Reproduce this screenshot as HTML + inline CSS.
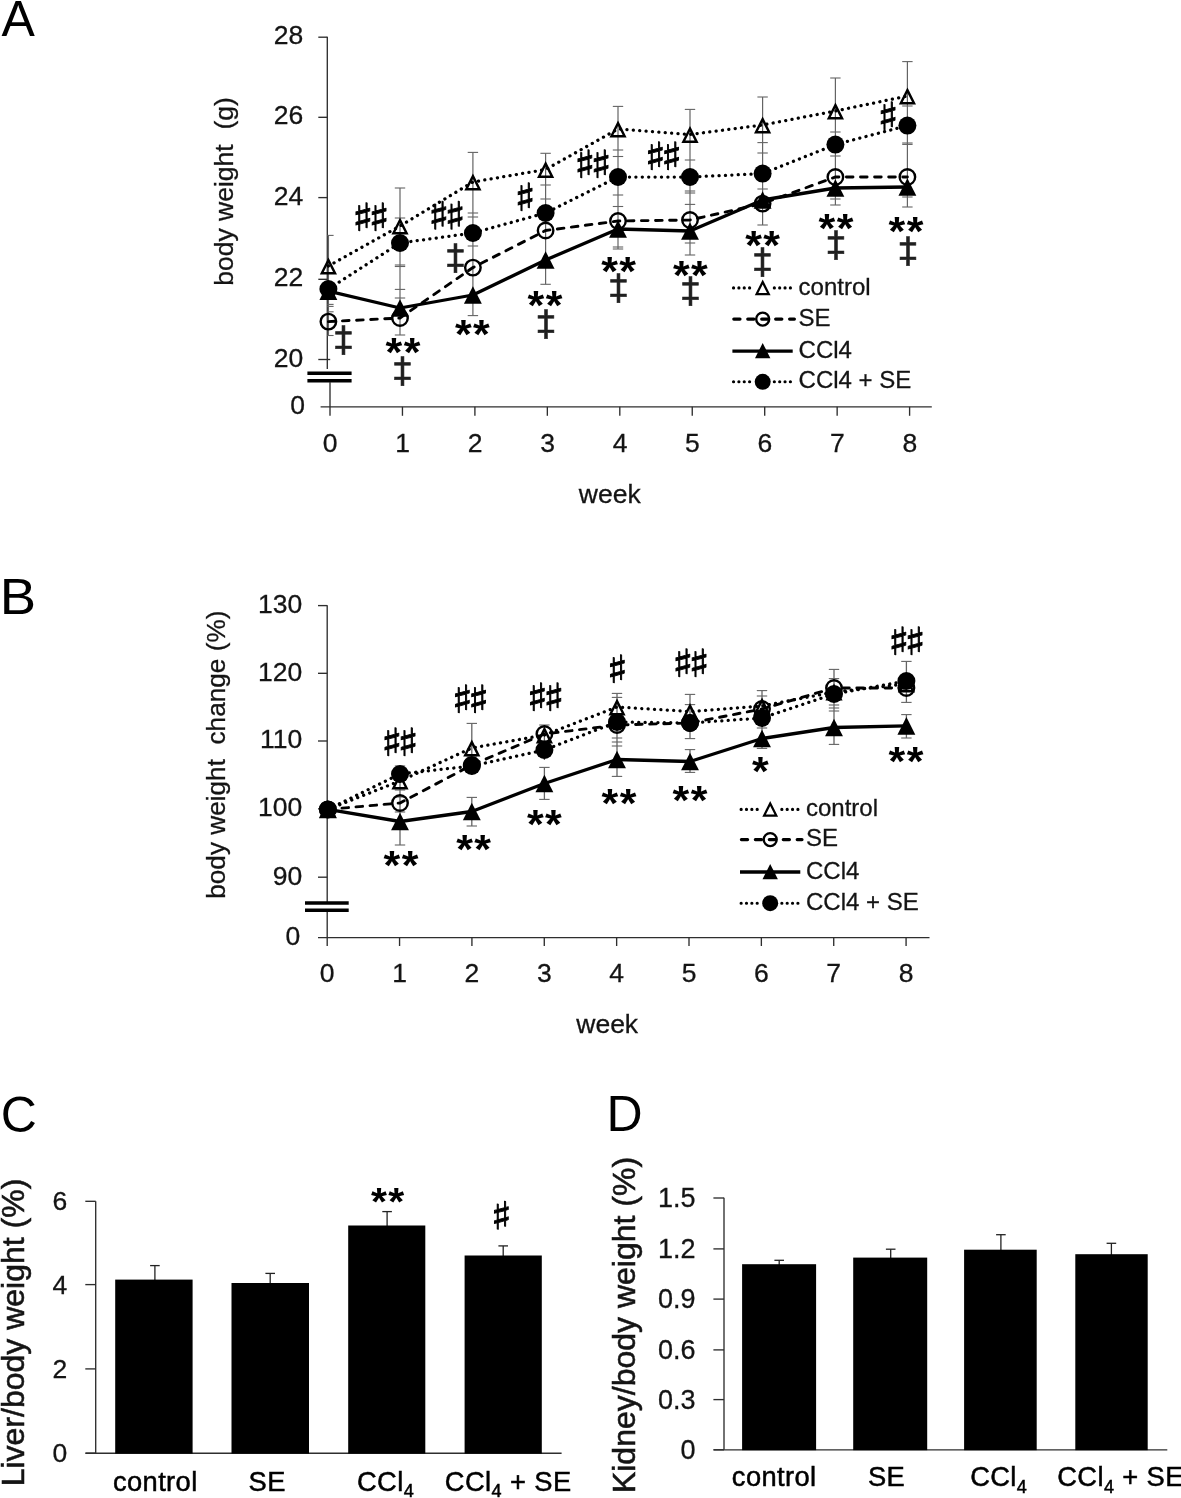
<!DOCTYPE html>
<html lang="en"><head><meta charset="utf-8"><title>Figure</title>
<style>
html,body{margin:0;padding:0;background:#fff;}
svg{display:block;font-family:"Liberation Sans", Arial, sans-serif;}
</style></head>
<body>
<svg width="1181" height="1498" viewBox="0 0 1181 1498">
<rect x="0" y="0" width="1181" height="1498" fill="#fff"/>
<text x="1.50" y="35.80" font-size="50" text-anchor="start" font-weight="normal" fill="#000" stroke="#000" stroke-width="0" >A</text>
<line x1="327.30" y1="36.70" x2="327.30" y2="369.00" stroke="#2e2e2e" stroke-width="1.35" />
<line x1="318.30" y1="37.20" x2="327.30" y2="37.20" stroke="#2e2e2e" stroke-width="1.35" />
<text x="303.30" y="44.30" font-size="26.5" text-anchor="end" font-weight="normal" fill="#141414" stroke="#141414" stroke-width="0.3" >28</text>
<line x1="318.30" y1="117.30" x2="327.30" y2="117.30" stroke="#2e2e2e" stroke-width="1.35" />
<text x="303.30" y="124.40" font-size="26.5" text-anchor="end" font-weight="normal" fill="#141414" stroke="#141414" stroke-width="0.3" >26</text>
<line x1="318.30" y1="197.60" x2="327.30" y2="197.60" stroke="#2e2e2e" stroke-width="1.35" />
<text x="303.30" y="204.70" font-size="26.5" text-anchor="end" font-weight="normal" fill="#141414" stroke="#141414" stroke-width="0.3" >24</text>
<line x1="318.30" y1="279.30" x2="327.30" y2="279.30" stroke="#2e2e2e" stroke-width="1.35" />
<text x="303.30" y="286.40" font-size="26.5" text-anchor="end" font-weight="normal" fill="#141414" stroke="#141414" stroke-width="0.3" >22</text>
<line x1="318.30" y1="359.50" x2="330.20" y2="359.50" stroke="#2e2e2e" stroke-width="1.35" />
<text x="303.30" y="366.60" font-size="26.5" text-anchor="end" font-weight="normal" fill="#141414" stroke="#141414" stroke-width="0.3" >20</text>
<line x1="307.40" y1="373.30" x2="351.60" y2="373.30" stroke="#000" stroke-width="3.5" />
<line x1="307.40" y1="380.70" x2="351.60" y2="380.70" stroke="#000" stroke-width="3.5" />
<line x1="330.00" y1="382.00" x2="330.00" y2="415.80" stroke="#2e2e2e" stroke-width="1.35" />
<line x1="320.60" y1="406.80" x2="931.80" y2="406.80" stroke="#2e2e2e" stroke-width="1.35" />
<text x="305.00" y="413.90" font-size="26.5" text-anchor="end" font-weight="normal" fill="#141414" stroke="#141414" stroke-width="0.3" >0</text>
<text x="330.20" y="451.80" font-size="26.5" text-anchor="middle" font-weight="normal" fill="#141414" stroke="#141414" stroke-width="0.3" >0</text>
<line x1="402.45" y1="406.80" x2="402.45" y2="415.80" stroke="#2e2e2e" stroke-width="1.35" />
<text x="402.65" y="451.80" font-size="26.5" text-anchor="middle" font-weight="normal" fill="#141414" stroke="#141414" stroke-width="0.3" >1</text>
<line x1="474.90" y1="406.80" x2="474.90" y2="415.80" stroke="#2e2e2e" stroke-width="1.35" />
<text x="475.10" y="451.80" font-size="26.5" text-anchor="middle" font-weight="normal" fill="#141414" stroke="#141414" stroke-width="0.3" >2</text>
<line x1="547.35" y1="406.80" x2="547.35" y2="415.80" stroke="#2e2e2e" stroke-width="1.35" />
<text x="547.55" y="451.80" font-size="26.5" text-anchor="middle" font-weight="normal" fill="#141414" stroke="#141414" stroke-width="0.3" >3</text>
<line x1="619.80" y1="406.80" x2="619.80" y2="415.80" stroke="#2e2e2e" stroke-width="1.35" />
<text x="620.00" y="451.80" font-size="26.5" text-anchor="middle" font-weight="normal" fill="#141414" stroke="#141414" stroke-width="0.3" >4</text>
<line x1="692.25" y1="406.80" x2="692.25" y2="415.80" stroke="#2e2e2e" stroke-width="1.35" />
<text x="692.45" y="451.80" font-size="26.5" text-anchor="middle" font-weight="normal" fill="#141414" stroke="#141414" stroke-width="0.3" >5</text>
<line x1="764.70" y1="406.80" x2="764.70" y2="415.80" stroke="#2e2e2e" stroke-width="1.35" />
<text x="764.90" y="451.80" font-size="26.5" text-anchor="middle" font-weight="normal" fill="#141414" stroke="#141414" stroke-width="0.3" >6</text>
<line x1="837.15" y1="406.80" x2="837.15" y2="415.80" stroke="#2e2e2e" stroke-width="1.35" />
<text x="837.35" y="451.80" font-size="26.5" text-anchor="middle" font-weight="normal" fill="#141414" stroke="#141414" stroke-width="0.3" >7</text>
<line x1="909.60" y1="406.80" x2="909.60" y2="415.80" stroke="#2e2e2e" stroke-width="1.35" />
<text x="909.80" y="451.80" font-size="26.5" text-anchor="middle" font-weight="normal" fill="#141414" stroke="#141414" stroke-width="0.3" >8</text>
<text x="609.80" y="502.60" font-size="26.5" text-anchor="middle" font-weight="normal" fill="#141414" stroke="#141414" stroke-width="0.3" >week</text>
<text transform="translate(232.50,191.50) rotate(-90)" font-size="26.5" text-anchor="middle" fill="#141414" stroke="#141414" stroke-width="0.3" xml:space="preserve">body weight&#160;&#160;(g)</text>
<line x1="328.40" y1="235.40" x2="328.40" y2="335.50" stroke="#646464" stroke-width="1.3" />
<line x1="327.30" y1="235.40" x2="333.60" y2="235.40" stroke="#646464" stroke-width="1.1" />
<line x1="327.30" y1="304.40" x2="333.60" y2="304.40" stroke="#646464" stroke-width="1.1" />
<line x1="327.30" y1="306.40" x2="333.60" y2="306.40" stroke="#646464" stroke-width="1.1" />
<line x1="327.30" y1="311.80" x2="333.60" y2="311.80" stroke="#646464" stroke-width="1.1" />
<line x1="327.30" y1="335.50" x2="333.60" y2="335.50" stroke="#646464" stroke-width="1.1" />
<line x1="400.00" y1="188.00" x2="400.00" y2="335.00" stroke="#646464" stroke-width="1.2" />
<line x1="394.80" y1="188.00" x2="405.20" y2="188.00" stroke="#646464" stroke-width="1.1" />
<line x1="394.80" y1="218.00" x2="405.20" y2="218.00" stroke="#646464" stroke-width="1.1" />
<line x1="394.80" y1="265.00" x2="405.20" y2="265.00" stroke="#646464" stroke-width="1.1" />
<line x1="394.80" y1="266.50" x2="405.20" y2="266.50" stroke="#646464" stroke-width="1.1" />
<line x1="394.80" y1="289.40" x2="405.20" y2="289.40" stroke="#646464" stroke-width="1.1" />
<line x1="394.80" y1="298.00" x2="405.20" y2="298.00" stroke="#646464" stroke-width="1.1" />
<line x1="394.80" y1="335.00" x2="405.20" y2="335.00" stroke="#646464" stroke-width="1.1" />
<line x1="472.90" y1="152.40" x2="472.90" y2="315.60" stroke="#646464" stroke-width="1.2" />
<line x1="467.70" y1="152.40" x2="478.10" y2="152.40" stroke="#646464" stroke-width="1.1" />
<line x1="467.70" y1="213.00" x2="478.10" y2="213.00" stroke="#646464" stroke-width="1.1" />
<line x1="467.70" y1="217.00" x2="478.10" y2="217.00" stroke="#646464" stroke-width="1.1" />
<line x1="467.70" y1="246.00" x2="478.10" y2="246.00" stroke="#646464" stroke-width="1.1" />
<line x1="467.70" y1="315.60" x2="478.10" y2="315.60" stroke="#646464" stroke-width="1.1" />
<line x1="545.60" y1="153.30" x2="545.60" y2="284.30" stroke="#646464" stroke-width="1.2" />
<line x1="540.40" y1="153.30" x2="550.80" y2="153.30" stroke="#646464" stroke-width="1.1" />
<line x1="540.40" y1="185.00" x2="550.80" y2="185.00" stroke="#646464" stroke-width="1.1" />
<line x1="540.40" y1="199.00" x2="550.80" y2="199.00" stroke="#646464" stroke-width="1.1" />
<line x1="540.40" y1="284.30" x2="550.80" y2="284.30" stroke="#646464" stroke-width="1.1" />
<line x1="618.00" y1="106.40" x2="618.00" y2="249.00" stroke="#646464" stroke-width="1.2" />
<line x1="612.80" y1="106.40" x2="623.20" y2="106.40" stroke="#646464" stroke-width="1.1" />
<line x1="612.80" y1="150.00" x2="623.20" y2="150.00" stroke="#646464" stroke-width="1.1" />
<line x1="612.80" y1="156.50" x2="623.20" y2="156.50" stroke="#646464" stroke-width="1.1" />
<line x1="612.80" y1="195.00" x2="623.20" y2="195.00" stroke="#646464" stroke-width="1.1" />
<line x1="612.80" y1="206.50" x2="623.20" y2="206.50" stroke="#646464" stroke-width="1.1" />
<line x1="612.80" y1="247.00" x2="623.20" y2="247.00" stroke="#646464" stroke-width="1.1" />
<line x1="612.80" y1="249.00" x2="623.20" y2="249.00" stroke="#646464" stroke-width="1.1" />
<line x1="690.00" y1="109.40" x2="690.00" y2="255.00" stroke="#646464" stroke-width="1.2" />
<line x1="684.80" y1="109.40" x2="695.20" y2="109.40" stroke="#646464" stroke-width="1.1" />
<line x1="684.80" y1="160.00" x2="695.20" y2="160.00" stroke="#646464" stroke-width="1.1" />
<line x1="684.80" y1="191.00" x2="695.20" y2="191.00" stroke="#646464" stroke-width="1.1" />
<line x1="684.80" y1="193.00" x2="695.20" y2="193.00" stroke="#646464" stroke-width="1.1" />
<line x1="684.80" y1="204.40" x2="695.20" y2="204.40" stroke="#646464" stroke-width="1.1" />
<line x1="684.80" y1="243.00" x2="695.20" y2="243.00" stroke="#646464" stroke-width="1.1" />
<line x1="684.80" y1="255.00" x2="695.20" y2="255.00" stroke="#646464" stroke-width="1.1" />
<line x1="762.60" y1="97.00" x2="762.60" y2="225.00" stroke="#646464" stroke-width="1.2" />
<line x1="757.40" y1="97.00" x2="767.80" y2="97.00" stroke="#646464" stroke-width="1.1" />
<line x1="757.40" y1="142.60" x2="767.80" y2="142.60" stroke="#646464" stroke-width="1.1" />
<line x1="757.40" y1="153.00" x2="767.80" y2="153.00" stroke="#646464" stroke-width="1.1" />
<line x1="757.40" y1="189.00" x2="767.80" y2="189.00" stroke="#646464" stroke-width="1.1" />
<line x1="757.40" y1="225.00" x2="767.80" y2="225.00" stroke="#646464" stroke-width="1.1" />
<line x1="835.40" y1="78.00" x2="835.40" y2="205.00" stroke="#646464" stroke-width="1.2" />
<line x1="830.20" y1="78.00" x2="840.60" y2="78.00" stroke="#646464" stroke-width="1.1" />
<line x1="830.20" y1="132.00" x2="840.60" y2="132.00" stroke="#646464" stroke-width="1.1" />
<line x1="830.20" y1="156.00" x2="840.60" y2="156.00" stroke="#646464" stroke-width="1.1" />
<line x1="830.20" y1="199.00" x2="840.60" y2="199.00" stroke="#646464" stroke-width="1.1" />
<line x1="830.20" y1="205.00" x2="840.60" y2="205.00" stroke="#646464" stroke-width="1.1" />
<line x1="907.40" y1="61.60" x2="907.40" y2="207.00" stroke="#646464" stroke-width="1.2" />
<line x1="902.20" y1="61.60" x2="912.60" y2="61.60" stroke="#646464" stroke-width="1.1" />
<line x1="902.20" y1="106.00" x2="912.60" y2="106.00" stroke="#646464" stroke-width="1.1" />
<line x1="902.20" y1="143.00" x2="912.60" y2="143.00" stroke="#646464" stroke-width="1.1" />
<line x1="902.20" y1="144.40" x2="912.60" y2="144.40" stroke="#646464" stroke-width="1.1" />
<line x1="902.20" y1="197.00" x2="912.60" y2="197.00" stroke="#646464" stroke-width="1.1" />
<line x1="902.20" y1="207.00" x2="912.60" y2="207.00" stroke="#646464" stroke-width="1.1" />
<polyline points="328.40,266.00 400.00,226.00 472.90,182.00 545.60,169.50 618.00,129.00 690.00,134.50 762.60,125.00 835.40,111.00 907.40,96.00" fill="none" stroke="#000" stroke-width="3.25" stroke-dasharray="0.1 6.3" stroke-linecap="round"/>
<polygon points="328.40,260.15 335.00,273.20 321.80,273.20" fill="none" stroke="#000" stroke-width="2.45" stroke-linejoin="miter"/>
<polygon points="400.00,220.15 406.60,233.20 393.40,233.20" fill="none" stroke="#000" stroke-width="2.45" stroke-linejoin="miter"/>
<polygon points="472.90,176.15 479.50,189.20 466.30,189.20" fill="none" stroke="#000" stroke-width="2.45" stroke-linejoin="miter"/>
<polygon points="545.60,163.65 552.20,176.70 539.00,176.70" fill="none" stroke="#000" stroke-width="2.45" stroke-linejoin="miter"/>
<polygon points="618.00,123.15 624.60,136.20 611.40,136.20" fill="none" stroke="#000" stroke-width="2.45" stroke-linejoin="miter"/>
<polygon points="690.00,128.65 696.60,141.70 683.40,141.70" fill="none" stroke="#000" stroke-width="2.45" stroke-linejoin="miter"/>
<polygon points="762.60,119.15 769.20,132.20 756.00,132.20" fill="none" stroke="#000" stroke-width="2.45" stroke-linejoin="miter"/>
<polygon points="835.40,105.15 842.00,118.20 828.80,118.20" fill="none" stroke="#000" stroke-width="2.45" stroke-linejoin="miter"/>
<polygon points="907.40,90.15 914.00,103.20 900.80,103.20" fill="none" stroke="#000" stroke-width="2.45" stroke-linejoin="miter"/>
<polyline points="328.40,321.60 400.00,318.00 472.90,267.60 545.60,230.50 618.00,221.00 690.00,220.00 762.60,203.60 835.40,177.00 907.40,177.00" fill="none" stroke="#000" stroke-width="2.9" stroke-dasharray="6.6 7.5" stroke-linecap="round"/>
<circle cx="328.40" cy="321.60" r="7.75" fill="none" stroke="#000" stroke-width="2.4"/>
<circle cx="400.00" cy="318.00" r="7.75" fill="none" stroke="#000" stroke-width="2.4"/>
<circle cx="472.90" cy="267.60" r="7.75" fill="none" stroke="#000" stroke-width="2.4"/>
<circle cx="545.60" cy="230.50" r="7.75" fill="none" stroke="#000" stroke-width="2.4"/>
<circle cx="618.00" cy="221.00" r="7.75" fill="none" stroke="#000" stroke-width="2.4"/>
<circle cx="690.00" cy="220.00" r="7.75" fill="none" stroke="#000" stroke-width="2.4"/>
<circle cx="762.60" cy="203.60" r="7.75" fill="none" stroke="#000" stroke-width="2.4"/>
<circle cx="835.40" cy="177.00" r="7.75" fill="none" stroke="#000" stroke-width="2.4"/>
<circle cx="907.40" cy="177.00" r="7.75" fill="none" stroke="#000" stroke-width="2.4"/>
<polyline points="328.40,291.20 400.00,308.00 472.90,295.00 545.60,260.00 618.00,229.00 690.00,231.00 762.60,200.00 835.40,188.00 907.40,187.00" fill="none" stroke="#000" stroke-width="3.3" stroke-linejoin="round"/>
<polygon points="328.40,282.35 337.35,300.05 319.45,300.05" fill="#000"/>
<polygon points="400.00,299.15 408.95,316.85 391.05,316.85" fill="#000"/>
<polygon points="472.90,286.15 481.85,303.85 463.95,303.85" fill="#000"/>
<polygon points="545.60,251.15 554.55,268.85 536.65,268.85" fill="#000"/>
<polygon points="618.00,220.15 626.95,237.85 609.05,237.85" fill="#000"/>
<polygon points="690.00,222.15 698.95,239.85 681.05,239.85" fill="#000"/>
<polygon points="762.60,191.15 771.55,208.85 753.65,208.85" fill="#000"/>
<polygon points="835.40,179.15 844.35,196.85 826.45,196.85" fill="#000"/>
<polygon points="907.40,178.15 916.35,195.85 898.45,195.85" fill="#000"/>
<polyline points="328.40,289.00 400.00,243.00 472.90,233.00 545.60,213.00 618.00,177.00 690.00,177.00 762.60,173.60 835.40,144.60 907.40,125.60" fill="none" stroke="#000" stroke-width="3.25" stroke-dasharray="0.1 6.3" stroke-linecap="round"/>
<circle cx="328.40" cy="289.00" r="9.0" fill="#000"/>
<circle cx="400.00" cy="243.00" r="9.0" fill="#000"/>
<circle cx="472.90" cy="233.00" r="9.0" fill="#000"/>
<circle cx="545.60" cy="213.00" r="9.0" fill="#000"/>
<circle cx="618.00" cy="177.00" r="9.0" fill="#000"/>
<circle cx="690.00" cy="177.00" r="9.0" fill="#000"/>
<circle cx="762.60" cy="173.60" r="9.0" fill="#000"/>
<circle cx="835.40" cy="144.60" r="9.0" fill="#000"/>
<circle cx="907.40" cy="125.60" r="9.0" fill="#000"/>
<g transform="translate(362.85,231.20) skewY(9.5) scale(1.1,1)"><text text-anchor="middle" font-family="'DejaVu Sans', sans-serif" font-size="39.8" fill="#000" stroke="#000" stroke-width="0.85">♯</text></g>
<g transform="translate(379.15,231.20) skewY(9.5) scale(1.1,1)"><text text-anchor="middle" font-family="'DejaVu Sans', sans-serif" font-size="39.8" fill="#000" stroke="#000" stroke-width="0.85">♯</text></g>
<g transform="translate(438.85,229.70) skewY(9.5) scale(1.1,1)"><text text-anchor="middle" font-family="'DejaVu Sans', sans-serif" font-size="39.8" fill="#000" stroke="#000" stroke-width="0.85">♯</text></g>
<g transform="translate(455.15,229.70) skewY(9.5) scale(1.1,1)"><text text-anchor="middle" font-family="'DejaVu Sans', sans-serif" font-size="39.8" fill="#000" stroke="#000" stroke-width="0.85">♯</text></g>
<g transform="translate(525.00,211.20) skewY(9.5) scale(1.1,1)"><text text-anchor="middle" font-family="'DejaVu Sans', sans-serif" font-size="39.8" fill="#000" stroke="#000" stroke-width="0.85">♯</text></g>
<g transform="translate(584.85,178.20) skewY(9.5) scale(1.1,1)"><text text-anchor="middle" font-family="'DejaVu Sans', sans-serif" font-size="39.8" fill="#000" stroke="#000" stroke-width="0.85">♯</text></g>
<g transform="translate(601.15,178.20) skewY(9.5) scale(1.1,1)"><text text-anchor="middle" font-family="'DejaVu Sans', sans-serif" font-size="39.8" fill="#000" stroke="#000" stroke-width="0.85">♯</text></g>
<g transform="translate(655.35,170.20) skewY(9.5) scale(1.1,1)"><text text-anchor="middle" font-family="'DejaVu Sans', sans-serif" font-size="39.8" fill="#000" stroke="#000" stroke-width="0.85">♯</text></g>
<g transform="translate(671.65,170.20) skewY(9.5) scale(1.1,1)"><text text-anchor="middle" font-family="'DejaVu Sans', sans-serif" font-size="39.8" fill="#000" stroke="#000" stroke-width="0.85">♯</text></g>
<g transform="translate(888.00,130.20) skewY(9.5) scale(1.1,1)"><text text-anchor="middle" font-family="'DejaVu Sans', sans-serif" font-size="39.8" fill="#000" stroke="#000" stroke-width="0.85">♯</text></g>
<text x="343.60" y="349.20" text-anchor="middle" font-family="'WenQuanYi Zen Hei', 'DejaVu Sans', sans-serif" font-size="33.2" fill="#1f1f1f" stroke="#1f1f1f" stroke-width="0.6">‡</text>
<text x="455.60" y="267.20" text-anchor="middle" font-family="'WenQuanYi Zen Hei', 'DejaVu Sans', sans-serif" font-size="33.2" fill="#1f1f1f" stroke="#1f1f1f" stroke-width="0.6">‡</text>
<text x="402.40" y="379.60" text-anchor="middle" font-family="'WenQuanYi Zen Hei', 'DejaVu Sans', sans-serif" font-size="33.2" fill="#1f1f1f" stroke="#1f1f1f" stroke-width="0.6">‡</text>
<g transform="translate(403.70,365.70) scale(1,0.93)"><text font-size="43" font-weight="bold" text-anchor="middle" letter-spacing="1.40" fill="#000">**</text></g>
<g transform="translate(473.10,347.70) scale(1,0.93)"><text font-size="43" font-weight="bold" text-anchor="middle" letter-spacing="1.40" fill="#000">**</text></g>
<g transform="translate(545.70,318.70) scale(1,0.93)"><text font-size="43" font-weight="bold" text-anchor="middle" letter-spacing="1.40" fill="#000">**</text></g>
<text x="546.00" y="333.20" text-anchor="middle" font-family="'WenQuanYi Zen Hei', 'DejaVu Sans', sans-serif" font-size="33.2" fill="#1f1f1f" stroke="#1f1f1f" stroke-width="0.6">‡</text>
<g transform="translate(619.30,284.70) scale(1,0.93)"><text font-size="43" font-weight="bold" text-anchor="middle" letter-spacing="1.40" fill="#000">**</text></g>
<text x="618.60" y="297.20" text-anchor="middle" font-family="'WenQuanYi Zen Hei', 'DejaVu Sans', sans-serif" font-size="33.2" fill="#1f1f1f" stroke="#1f1f1f" stroke-width="0.6">‡</text>
<g transform="translate(691.10,288.70) scale(1,0.93)"><text font-size="43" font-weight="bold" text-anchor="middle" letter-spacing="1.40" fill="#000">**</text></g>
<text x="690.40" y="300.20" text-anchor="middle" font-family="'WenQuanYi Zen Hei', 'DejaVu Sans', sans-serif" font-size="33.2" fill="#1f1f1f" stroke="#1f1f1f" stroke-width="0.6">‡</text>
<g transform="translate(763.30,258.70) scale(1,0.93)"><text font-size="43" font-weight="bold" text-anchor="middle" letter-spacing="1.40" fill="#000">**</text></g>
<text x="762.60" y="271.20" text-anchor="middle" font-family="'WenQuanYi Zen Hei', 'DejaVu Sans', sans-serif" font-size="33.2" fill="#1f1f1f" stroke="#1f1f1f" stroke-width="0.6">‡</text>
<g transform="translate(836.70,241.70) scale(1,0.93)"><text font-size="43" font-weight="bold" text-anchor="middle" letter-spacing="1.40" fill="#000">**</text></g>
<text x="836.00" y="254.20" text-anchor="middle" font-family="'WenQuanYi Zen Hei', 'DejaVu Sans', sans-serif" font-size="33.2" fill="#1f1f1f" stroke="#1f1f1f" stroke-width="0.6">‡</text>
<g transform="translate(906.70,244.70) scale(1,0.93)"><text font-size="43" font-weight="bold" text-anchor="middle" letter-spacing="1.40" fill="#000">**</text></g>
<text x="908.00" y="260.20" text-anchor="middle" font-family="'WenQuanYi Zen Hei', 'DejaVu Sans', sans-serif" font-size="33.2" fill="#1f1f1f" stroke="#1f1f1f" stroke-width="0.6">‡</text>
<polyline points="733.50,287.90 750.40,287.90" fill="none" stroke="#000" stroke-width="3.1" stroke-dasharray="0.1 5.25" stroke-linecap="round"/>
<polyline points="774.30,287.90 790.70,287.90" fill="none" stroke="#000" stroke-width="3.1" stroke-dasharray="0.1 5.25" stroke-linecap="round"/>
<polygon points="762.70,282.02 768.77,294.02 756.63,294.02" fill="none" stroke="#000" stroke-width="2.25" stroke-linejoin="miter"/>
<polyline points="733.80,319.10 794.40,319.10" fill="none" stroke="#000" stroke-width="3.2" stroke-dasharray="6.2 7.75" stroke-linecap="round"/>
<circle cx="762.70" cy="319.10" r="6.50" fill="none" stroke="#000" stroke-width="2.4"/>
<polyline points="732.40,351.10 792.70,351.10" fill="none" stroke="#000" stroke-width="3.3"/>
<polygon points="762.70,343.09 770.40,358.31 755.00,358.31" fill="#000"/>
<polyline points="733.50,381.80 750.40,381.80" fill="none" stroke="#000" stroke-width="3.1" stroke-dasharray="0.1 5.25" stroke-linecap="round"/>
<polyline points="774.30,381.80 790.70,381.80" fill="none" stroke="#000" stroke-width="3.1" stroke-dasharray="0.1 5.25" stroke-linecap="round"/>
<circle cx="762.70" cy="381.80" r="8.0" fill="#000"/>
<text x="798.60" y="294.50" font-size="24" text-anchor="start" font-weight="normal" fill="#141414" stroke="#141414" stroke-width="0.3" >control</text>
<text x="798.60" y="325.70" font-size="24" text-anchor="start" font-weight="normal" fill="#141414" stroke="#141414" stroke-width="0.3" >SE</text>
<text x="798.60" y="357.70" font-size="24" text-anchor="start" font-weight="normal" fill="#141414" stroke="#141414" stroke-width="0.3" >CCl4</text>
<text x="798.60" y="388.40" font-size="24" text-anchor="start" font-weight="normal" fill="#141414" stroke="#141414" stroke-width="0.3" >CCl4 + SE</text>
<text transform="translate(-0.2,613.9) scale(1.09,1)" font-size="50" fill="#000">B</text>
<line x1="327.20" y1="605.20" x2="327.20" y2="946.00" stroke="#2e2e2e" stroke-width="1.35" />
<line x1="318.00" y1="605.60" x2="327.20" y2="605.60" stroke="#2e2e2e" stroke-width="1.35" />
<text x="302.20" y="612.90" font-size="26.5" text-anchor="end" font-weight="normal" fill="#141414" stroke="#141414" stroke-width="0.3" >130</text>
<line x1="318.00" y1="673.30" x2="327.20" y2="673.30" stroke="#2e2e2e" stroke-width="1.35" />
<text x="302.20" y="680.60" font-size="26.5" text-anchor="end" font-weight="normal" fill="#141414" stroke="#141414" stroke-width="0.3" >120</text>
<line x1="318.00" y1="741.00" x2="327.20" y2="741.00" stroke="#2e2e2e" stroke-width="1.35" />
<text x="302.20" y="748.30" font-size="26.5" text-anchor="end" font-weight="normal" fill="#141414" stroke="#141414" stroke-width="0.3" >110</text>
<line x1="318.00" y1="808.80" x2="327.20" y2="808.80" stroke="#2e2e2e" stroke-width="1.35" />
<text x="302.20" y="816.10" font-size="26.5" text-anchor="end" font-weight="normal" fill="#141414" stroke="#141414" stroke-width="0.3" >100</text>
<line x1="318.00" y1="877.20" x2="327.20" y2="877.20" stroke="#2e2e2e" stroke-width="1.35" />
<text x="302.20" y="884.50" font-size="26.5" text-anchor="end" font-weight="normal" fill="#141414" stroke="#141414" stroke-width="0.3" >90</text>
<rect x="320" y="903" width="14" height="7.2" fill="#fff"/>
<line x1="305.00" y1="903.10" x2="348.70" y2="903.10" stroke="#000" stroke-width="3.5" />
<line x1="305.00" y1="910.20" x2="348.70" y2="910.20" stroke="#000" stroke-width="3.5" />
<line x1="318.00" y1="937.60" x2="929.50" y2="937.60" stroke="#2e2e2e" stroke-width="1.35" />
<text x="300.20" y="944.90" font-size="26.5" text-anchor="end" font-weight="normal" fill="#141414" stroke="#141414" stroke-width="0.3" >0</text>
<text x="327.20" y="982.30" font-size="26.5" text-anchor="middle" font-weight="normal" fill="#141414" stroke="#141414" stroke-width="0.3" >0</text>
<line x1="399.56" y1="937.60" x2="399.56" y2="946.00" stroke="#2e2e2e" stroke-width="1.35" />
<text x="399.56" y="982.30" font-size="26.5" text-anchor="middle" font-weight="normal" fill="#141414" stroke="#141414" stroke-width="0.3" >1</text>
<line x1="471.92" y1="937.60" x2="471.92" y2="946.00" stroke="#2e2e2e" stroke-width="1.35" />
<text x="471.92" y="982.30" font-size="26.5" text-anchor="middle" font-weight="normal" fill="#141414" stroke="#141414" stroke-width="0.3" >2</text>
<line x1="544.28" y1="937.60" x2="544.28" y2="946.00" stroke="#2e2e2e" stroke-width="1.35" />
<text x="544.28" y="982.30" font-size="26.5" text-anchor="middle" font-weight="normal" fill="#141414" stroke="#141414" stroke-width="0.3" >3</text>
<line x1="616.64" y1="937.60" x2="616.64" y2="946.00" stroke="#2e2e2e" stroke-width="1.35" />
<text x="616.64" y="982.30" font-size="26.5" text-anchor="middle" font-weight="normal" fill="#141414" stroke="#141414" stroke-width="0.3" >4</text>
<line x1="689.00" y1="937.60" x2="689.00" y2="946.00" stroke="#2e2e2e" stroke-width="1.35" />
<text x="689.00" y="982.30" font-size="26.5" text-anchor="middle" font-weight="normal" fill="#141414" stroke="#141414" stroke-width="0.3" >5</text>
<line x1="761.36" y1="937.60" x2="761.36" y2="946.00" stroke="#2e2e2e" stroke-width="1.35" />
<text x="761.36" y="982.30" font-size="26.5" text-anchor="middle" font-weight="normal" fill="#141414" stroke="#141414" stroke-width="0.3" >6</text>
<line x1="833.72" y1="937.60" x2="833.72" y2="946.00" stroke="#2e2e2e" stroke-width="1.35" />
<text x="833.72" y="982.30" font-size="26.5" text-anchor="middle" font-weight="normal" fill="#141414" stroke="#141414" stroke-width="0.3" >7</text>
<line x1="906.08" y1="937.60" x2="906.08" y2="946.00" stroke="#2e2e2e" stroke-width="1.35" />
<text x="906.08" y="982.30" font-size="26.5" text-anchor="middle" font-weight="normal" fill="#141414" stroke="#141414" stroke-width="0.3" >8</text>
<text x="607.20" y="1033.40" font-size="26.5" text-anchor="middle" font-weight="normal" fill="#141414" stroke="#141414" stroke-width="0.3" >week</text>
<text transform="translate(225.00,754.70) rotate(-90)" font-size="26.2" text-anchor="middle" fill="#141414" stroke="#141414" stroke-width="0.3" xml:space="preserve">body weight&#160;&#160;change (%)</text>
<line x1="400.00" y1="766.00" x2="400.00" y2="845.00" stroke="#646464" stroke-width="1.3" />
<line x1="394.80" y1="766.00" x2="405.20" y2="766.00" stroke="#646464" stroke-width="1.1" />
<line x1="394.80" y1="790.00" x2="405.20" y2="790.00" stroke="#646464" stroke-width="1.1" />
<line x1="394.80" y1="797.00" x2="405.20" y2="797.00" stroke="#646464" stroke-width="1.1" />
<line x1="394.80" y1="812.00" x2="405.20" y2="812.00" stroke="#646464" stroke-width="1.1" />
<line x1="394.80" y1="845.00" x2="405.20" y2="845.00" stroke="#646464" stroke-width="1.1" />
<line x1="471.80" y1="723.40" x2="471.80" y2="775.00" stroke="#646464" stroke-width="1.3" />
<line x1="466.60" y1="723.40" x2="477.00" y2="723.40" stroke="#646464" stroke-width="1.1" />
<line x1="466.60" y1="757.00" x2="477.00" y2="757.00" stroke="#646464" stroke-width="1.1" />
<line x1="471.80" y1="797.40" x2="471.80" y2="826.00" stroke="#646464" stroke-width="1.3" />
<line x1="466.60" y1="797.40" x2="477.00" y2="797.40" stroke="#646464" stroke-width="1.1" />
<line x1="466.60" y1="826.00" x2="477.00" y2="826.00" stroke="#646464" stroke-width="1.1" />
<line x1="544.40" y1="725.00" x2="544.40" y2="760.00" stroke="#646464" stroke-width="1.3" />
<line x1="539.20" y1="725.00" x2="549.60" y2="725.00" stroke="#646464" stroke-width="1.1" />
<line x1="539.20" y1="742.00" x2="549.60" y2="742.00" stroke="#646464" stroke-width="1.1" />
<line x1="544.40" y1="767.40" x2="544.40" y2="799.40" stroke="#646464" stroke-width="1.3" />
<line x1="539.20" y1="767.40" x2="549.60" y2="767.40" stroke="#646464" stroke-width="1.1" />
<line x1="539.20" y1="799.40" x2="549.60" y2="799.40" stroke="#646464" stroke-width="1.1" />
<line x1="617.00" y1="693.40" x2="617.00" y2="776.40" stroke="#646464" stroke-width="1.3" />
<line x1="611.80" y1="693.40" x2="622.20" y2="693.40" stroke="#646464" stroke-width="1.1" />
<line x1="611.80" y1="697.40" x2="622.20" y2="697.40" stroke="#646464" stroke-width="1.1" />
<line x1="611.80" y1="738.00" x2="622.20" y2="738.00" stroke="#646464" stroke-width="1.1" />
<line x1="611.80" y1="742.00" x2="622.20" y2="742.00" stroke="#646464" stroke-width="1.1" />
<line x1="611.80" y1="746.00" x2="622.20" y2="746.00" stroke="#646464" stroke-width="1.1" />
<line x1="611.80" y1="776.40" x2="622.20" y2="776.40" stroke="#646464" stroke-width="1.1" />
<line x1="690.00" y1="694.40" x2="690.00" y2="738.60" stroke="#646464" stroke-width="1.3" />
<line x1="684.80" y1="694.40" x2="695.20" y2="694.40" stroke="#646464" stroke-width="1.1" />
<line x1="684.80" y1="704.60" x2="695.20" y2="704.60" stroke="#646464" stroke-width="1.1" />
<line x1="684.80" y1="738.60" x2="695.20" y2="738.60" stroke="#646464" stroke-width="1.1" />
<line x1="690.00" y1="749.60" x2="690.00" y2="772.40" stroke="#646464" stroke-width="1.3" />
<line x1="684.80" y1="749.60" x2="695.20" y2="749.60" stroke="#646464" stroke-width="1.1" />
<line x1="684.80" y1="772.40" x2="695.20" y2="772.40" stroke="#646464" stroke-width="1.1" />
<line x1="762.00" y1="690.60" x2="762.00" y2="748.40" stroke="#646464" stroke-width="1.3" />
<line x1="756.80" y1="690.60" x2="767.20" y2="690.60" stroke="#646464" stroke-width="1.1" />
<line x1="756.80" y1="696.00" x2="767.20" y2="696.00" stroke="#646464" stroke-width="1.1" />
<line x1="756.80" y1="728.00" x2="767.20" y2="728.00" stroke="#646464" stroke-width="1.1" />
<line x1="756.80" y1="748.40" x2="767.20" y2="748.40" stroke="#646464" stroke-width="1.1" />
<line x1="834.00" y1="669.40" x2="834.00" y2="744.40" stroke="#646464" stroke-width="1.3" />
<line x1="828.80" y1="669.40" x2="839.20" y2="669.40" stroke="#646464" stroke-width="1.1" />
<line x1="828.80" y1="678.60" x2="839.20" y2="678.60" stroke="#646464" stroke-width="1.1" />
<line x1="828.80" y1="705.00" x2="839.20" y2="705.00" stroke="#646464" stroke-width="1.1" />
<line x1="828.80" y1="708.00" x2="839.20" y2="708.00" stroke="#646464" stroke-width="1.1" />
<line x1="828.80" y1="711.00" x2="839.20" y2="711.00" stroke="#646464" stroke-width="1.1" />
<line x1="828.80" y1="744.40" x2="839.20" y2="744.40" stroke="#646464" stroke-width="1.1" />
<line x1="906.40" y1="661.40" x2="906.40" y2="702.40" stroke="#646464" stroke-width="1.3" />
<line x1="901.20" y1="661.40" x2="911.60" y2="661.40" stroke="#646464" stroke-width="1.1" />
<line x1="901.20" y1="702.40" x2="911.60" y2="702.40" stroke="#646464" stroke-width="1.1" />
<line x1="906.40" y1="714.60" x2="906.40" y2="738.00" stroke="#646464" stroke-width="1.3" />
<line x1="901.20" y1="714.60" x2="911.60" y2="714.60" stroke="#646464" stroke-width="1.1" />
<line x1="901.20" y1="738.00" x2="911.60" y2="738.00" stroke="#646464" stroke-width="1.1" />
<polyline points="327.90,809.40 400.00,781.00 471.80,748.00 544.40,735.00 617.00,707.00 690.00,711.50 762.00,706.00 834.00,692.00 906.40,684.00" fill="none" stroke="#000" stroke-width="3.25" stroke-dasharray="0.1 6.3" stroke-linecap="round"/>
<polygon points="327.90,803.55 334.50,816.60 321.30,816.60" fill="none" stroke="#000" stroke-width="2.45" stroke-linejoin="miter"/>
<polygon points="400.00,775.15 406.60,788.20 393.40,788.20" fill="none" stroke="#000" stroke-width="2.45" stroke-linejoin="miter"/>
<polygon points="471.80,742.15 478.40,755.20 465.20,755.20" fill="none" stroke="#000" stroke-width="2.45" stroke-linejoin="miter"/>
<polygon points="544.40,729.15 551.00,742.20 537.80,742.20" fill="none" stroke="#000" stroke-width="2.45" stroke-linejoin="miter"/>
<polygon points="617.00,701.15 623.60,714.20 610.40,714.20" fill="none" stroke="#000" stroke-width="2.45" stroke-linejoin="miter"/>
<polygon points="690.00,705.65 696.60,718.70 683.40,718.70" fill="none" stroke="#000" stroke-width="2.45" stroke-linejoin="miter"/>
<polygon points="762.00,700.15 768.60,713.20 755.40,713.20" fill="none" stroke="#000" stroke-width="2.45" stroke-linejoin="miter"/>
<polygon points="834.00,686.15 840.60,699.20 827.40,699.20" fill="none" stroke="#000" stroke-width="2.45" stroke-linejoin="miter"/>
<polygon points="906.40,678.15 913.00,691.20 899.80,691.20" fill="none" stroke="#000" stroke-width="2.45" stroke-linejoin="miter"/>
<polyline points="327.90,809.40 400.00,803.00 471.80,765.00 544.40,734.00 617.00,725.00 690.00,723.00 762.00,709.00 834.00,688.00 906.40,688.00" fill="none" stroke="#000" stroke-width="2.9" stroke-dasharray="6.6 7.5" stroke-linecap="round"/>
<circle cx="327.90" cy="809.40" r="7.75" fill="none" stroke="#000" stroke-width="2.4"/>
<circle cx="400.00" cy="803.00" r="7.75" fill="none" stroke="#000" stroke-width="2.4"/>
<circle cx="471.80" cy="765.00" r="7.75" fill="none" stroke="#000" stroke-width="2.4"/>
<circle cx="544.40" cy="734.00" r="7.75" fill="none" stroke="#000" stroke-width="2.4"/>
<circle cx="617.00" cy="725.00" r="7.75" fill="none" stroke="#000" stroke-width="2.4"/>
<circle cx="690.00" cy="723.00" r="7.75" fill="none" stroke="#000" stroke-width="2.4"/>
<circle cx="762.00" cy="709.00" r="7.75" fill="none" stroke="#000" stroke-width="2.4"/>
<circle cx="834.00" cy="688.00" r="7.75" fill="none" stroke="#000" stroke-width="2.4"/>
<circle cx="906.40" cy="688.00" r="7.75" fill="none" stroke="#000" stroke-width="2.4"/>
<polyline points="327.90,809.40 400.00,821.50 471.80,811.50 544.40,783.50 617.00,759.50 690.00,761.50 762.00,738.50 834.00,727.50 906.40,725.80" fill="none" stroke="#000" stroke-width="3.3" stroke-linejoin="round"/>
<polygon points="327.90,800.55 336.85,818.25 318.95,818.25" fill="#000"/>
<polygon points="400.00,812.65 408.95,830.35 391.05,830.35" fill="#000"/>
<polygon points="471.80,802.65 480.75,820.35 462.85,820.35" fill="#000"/>
<polygon points="544.40,774.65 553.35,792.35 535.45,792.35" fill="#000"/>
<polygon points="617.00,750.65 625.95,768.35 608.05,768.35" fill="#000"/>
<polygon points="690.00,752.65 698.95,770.35 681.05,770.35" fill="#000"/>
<polygon points="762.00,729.65 770.95,747.35 753.05,747.35" fill="#000"/>
<polygon points="834.00,718.65 842.95,736.35 825.05,736.35" fill="#000"/>
<polygon points="906.40,716.95 915.35,734.65 897.45,734.65" fill="#000"/>
<polyline points="327.90,809.40 400.00,774.00 471.80,766.00 544.40,750.00 617.00,722.00 690.00,723.00 762.00,718.00 834.00,694.00 906.40,681.00" fill="none" stroke="#000" stroke-width="3.25" stroke-dasharray="0.1 6.3" stroke-linecap="round"/>
<circle cx="327.90" cy="809.40" r="9.0" fill="#000"/>
<circle cx="400.00" cy="774.00" r="9.0" fill="#000"/>
<circle cx="471.80" cy="766.00" r="9.0" fill="#000"/>
<circle cx="544.40" cy="750.00" r="9.0" fill="#000"/>
<circle cx="617.00" cy="722.00" r="9.0" fill="#000"/>
<circle cx="690.00" cy="723.00" r="9.0" fill="#000"/>
<circle cx="762.00" cy="718.00" r="9.0" fill="#000"/>
<circle cx="834.00" cy="694.00" r="9.0" fill="#000"/>
<circle cx="906.40" cy="681.00" r="9.0" fill="#000"/>
<g transform="translate(391.85,756.20) skewY(9.5) scale(1.1,1)"><text text-anchor="middle" font-family="'DejaVu Sans', sans-serif" font-size="39.8" fill="#000" stroke="#000" stroke-width="0.85">♯</text></g>
<g transform="translate(408.15,756.20) skewY(9.5) scale(1.1,1)"><text text-anchor="middle" font-family="'DejaVu Sans', sans-serif" font-size="39.8" fill="#000" stroke="#000" stroke-width="0.85">♯</text></g>
<g transform="translate(462.25,713.20) skewY(9.5) scale(1.1,1)"><text text-anchor="middle" font-family="'DejaVu Sans', sans-serif" font-size="39.8" fill="#000" stroke="#000" stroke-width="0.85">♯</text></g>
<g transform="translate(478.55,713.20) skewY(9.5) scale(1.1,1)"><text text-anchor="middle" font-family="'DejaVu Sans', sans-serif" font-size="39.8" fill="#000" stroke="#000" stroke-width="0.85">♯</text></g>
<g transform="translate(537.45,711.20) skewY(9.5) scale(1.1,1)"><text text-anchor="middle" font-family="'DejaVu Sans', sans-serif" font-size="39.8" fill="#000" stroke="#000" stroke-width="0.85">♯</text></g>
<g transform="translate(553.75,711.20) skewY(9.5) scale(1.1,1)"><text text-anchor="middle" font-family="'DejaVu Sans', sans-serif" font-size="39.8" fill="#000" stroke="#000" stroke-width="0.85">♯</text></g>
<g transform="translate(617.40,683.20) skewY(9.5) scale(1.1,1)"><text text-anchor="middle" font-family="'DejaVu Sans', sans-serif" font-size="39.8" fill="#000" stroke="#000" stroke-width="0.85">♯</text></g>
<g transform="translate(682.85,677.20) skewY(9.5) scale(1.1,1)"><text text-anchor="middle" font-family="'DejaVu Sans', sans-serif" font-size="39.8" fill="#000" stroke="#000" stroke-width="0.85">♯</text></g>
<g transform="translate(699.15,677.20) skewY(9.5) scale(1.1,1)"><text text-anchor="middle" font-family="'DejaVu Sans', sans-serif" font-size="39.8" fill="#000" stroke="#000" stroke-width="0.85">♯</text></g>
<g transform="translate(898.85,655.20) skewY(9.5) scale(1.1,1)"><text text-anchor="middle" font-family="'DejaVu Sans', sans-serif" font-size="39.8" fill="#000" stroke="#000" stroke-width="0.85">♯</text></g>
<g transform="translate(915.15,655.20) skewY(9.5) scale(1.1,1)"><text text-anchor="middle" font-family="'DejaVu Sans', sans-serif" font-size="39.8" fill="#000" stroke="#000" stroke-width="0.85">♯</text></g>
<g transform="translate(401.70,878.70) scale(1,0.93)"><text font-size="43" font-weight="bold" text-anchor="middle" letter-spacing="1.40" fill="#000">**</text></g>
<g transform="translate(474.30,862.70) scale(1,0.93)"><text font-size="43" font-weight="bold" text-anchor="middle" letter-spacing="1.40" fill="#000">**</text></g>
<g transform="translate(545.10,837.70) scale(1,0.93)"><text font-size="43" font-weight="bold" text-anchor="middle" letter-spacing="1.40" fill="#000">**</text></g>
<g transform="translate(619.70,816.70) scale(1,0.93)"><text font-size="43" font-weight="bold" text-anchor="middle" letter-spacing="1.40" fill="#000">**</text></g>
<g transform="translate(690.70,813.70) scale(1,0.93)"><text font-size="43" font-weight="bold" text-anchor="middle" letter-spacing="1.40" fill="#000">**</text></g>
<g transform="translate(761.00,784.70) scale(1,0.93)"><text font-size="43" font-weight="bold" text-anchor="middle" letter-spacing="1.40" fill="#000">*</text></g>
<g transform="translate(906.70,774.70) scale(1,0.93)"><text font-size="43" font-weight="bold" text-anchor="middle" letter-spacing="1.40" fill="#000">**</text></g>
<polyline points="741.10,809.40 758.00,809.40" fill="none" stroke="#000" stroke-width="3.1" stroke-dasharray="0.1 5.25" stroke-linecap="round"/>
<polyline points="781.80,809.40 798.20,809.40" fill="none" stroke="#000" stroke-width="3.1" stroke-dasharray="0.1 5.25" stroke-linecap="round"/>
<polygon points="770.20,803.52 776.27,815.52 764.13,815.52" fill="none" stroke="#000" stroke-width="2.25" stroke-linejoin="miter"/>
<polyline points="741.40,839.60 802.00,839.60" fill="none" stroke="#000" stroke-width="3.2" stroke-dasharray="6.2 7.75" stroke-linecap="round"/>
<circle cx="770.20" cy="839.60" r="6.50" fill="none" stroke="#000" stroke-width="2.4"/>
<polyline points="740.00,872.00 800.30,872.00" fill="none" stroke="#000" stroke-width="3.3"/>
<polygon points="770.20,863.99 777.90,879.21 762.50,879.21" fill="#000"/>
<polyline points="741.10,903.20 758.00,903.20" fill="none" stroke="#000" stroke-width="3.1" stroke-dasharray="0.1 5.25" stroke-linecap="round"/>
<polyline points="781.80,903.20 798.20,903.20" fill="none" stroke="#000" stroke-width="3.1" stroke-dasharray="0.1 5.25" stroke-linecap="round"/>
<circle cx="770.20" cy="903.20" r="8.0" fill="#000"/>
<text x="806.00" y="816.00" font-size="24" text-anchor="start" font-weight="normal" fill="#141414" stroke="#141414" stroke-width="0.3" >control</text>
<text x="806.00" y="846.20" font-size="24" text-anchor="start" font-weight="normal" fill="#141414" stroke="#141414" stroke-width="0.3" >SE</text>
<text x="806.00" y="878.60" font-size="24" text-anchor="start" font-weight="normal" fill="#141414" stroke="#141414" stroke-width="0.3" >CCl4</text>
<text x="806.00" y="909.80" font-size="24" text-anchor="start" font-weight="normal" fill="#141414" stroke="#141414" stroke-width="0.3" >CCl4 + SE</text>
<text x="0.80" y="1131.80" font-size="50" text-anchor="start" font-weight="normal" fill="#000" stroke="#000" stroke-width="0" >C</text>
<line x1="95.70" y1="1201.20" x2="95.70" y2="1453.20" stroke="#2e2e2e" stroke-width="1.35" />
<line x1="85.60" y1="1453.20" x2="561.60" y2="1453.20" stroke="#2e2e2e" stroke-width="1.35" />
<line x1="85.30" y1="1201.30" x2="95.70" y2="1201.30" stroke="#2e2e2e" stroke-width="1.35" />
<text x="67.20" y="1210.30" font-size="26.5" text-anchor="end" font-weight="normal" fill="#141414" stroke="#141414" stroke-width="0.3" >6</text>
<line x1="85.30" y1="1284.60" x2="95.70" y2="1284.60" stroke="#2e2e2e" stroke-width="1.35" />
<text x="67.20" y="1293.60" font-size="26.5" text-anchor="end" font-weight="normal" fill="#141414" stroke="#141414" stroke-width="0.3" >4</text>
<line x1="85.30" y1="1368.90" x2="95.70" y2="1368.90" stroke="#2e2e2e" stroke-width="1.35" />
<text x="67.20" y="1377.90" font-size="26.5" text-anchor="end" font-weight="normal" fill="#141414" stroke="#141414" stroke-width="0.3" >2</text>
<line x1="85.30" y1="1453.20" x2="95.70" y2="1453.20" stroke="#2e2e2e" stroke-width="1.35" />
<text x="67.20" y="1462.20" font-size="26.5" text-anchor="end" font-weight="normal" fill="#141414" stroke="#141414" stroke-width="0.3" >0</text>
<line x1="154.90" y1="1265.60" x2="154.90" y2="1280.60" stroke="#222" stroke-width="1.3" />
<line x1="150.10" y1="1265.60" x2="159.70" y2="1265.60" stroke="#222" stroke-width="1.3" />
<rect x="115.20" y="1279.60" width="77.40" height="174.00" fill="#000"/>
<line x1="270.20" y1="1273.40" x2="270.20" y2="1284.00" stroke="#222" stroke-width="1.3" />
<line x1="265.40" y1="1273.40" x2="275.00" y2="1273.40" stroke="#222" stroke-width="1.3" />
<rect x="231.50" y="1283.00" width="77.50" height="170.60" fill="#000"/>
<line x1="387.10" y1="1211.60" x2="387.10" y2="1226.50" stroke="#222" stroke-width="1.3" />
<line x1="382.30" y1="1211.60" x2="391.90" y2="1211.60" stroke="#222" stroke-width="1.3" />
<rect x="348.20" y="1225.50" width="77.10" height="228.10" fill="#000"/>
<line x1="503.20" y1="1245.90" x2="503.20" y2="1256.50" stroke="#222" stroke-width="1.3" />
<line x1="498.40" y1="1245.90" x2="508.00" y2="1245.90" stroke="#222" stroke-width="1.3" />
<rect x="464.60" y="1255.50" width="77.20" height="198.10" fill="#000"/>
<text x="155.30" y="1490.60" font-size="27.3" text-anchor="middle" letter-spacing="0.4" fill="#000" stroke="#000" stroke-width="0.5">control</text>
<text x="267.20" y="1490.60" font-size="27.3" text-anchor="middle" letter-spacing="0.4" fill="#000" stroke="#000" stroke-width="0.5">SE</text>
<text x="385.50" y="1490.60" font-size="27.3" text-anchor="middle" letter-spacing="0.4" fill="#000" stroke="#000" stroke-width="0.5">CCl<tspan font-size="18" dy="6.5">4</tspan></text>
<text x="508.20" y="1490.60" font-size="27.3" text-anchor="middle" letter-spacing="0.4" fill="#000" stroke="#000" stroke-width="0.5">CCl<tspan font-size="18" dy="6.5">4</tspan><tspan dy="-6.5"> + SE</tspan></text>
<text transform="translate(24.30,1332.50) rotate(-90)" font-size="32" text-anchor="middle" fill="#141414" stroke="#141414" stroke-width="0.55" >Liver/body weight (%)</text>
<g transform="translate(388.27,1214.63) scale(1,0.93)"><text font-size="41" font-weight="bold" text-anchor="middle" letter-spacing="1.33" fill="#000">**</text></g>
<g transform="translate(501.40,1229.70) skewY(9.5) scale(1.1,1)"><text text-anchor="middle" font-family="'DejaVu Sans', sans-serif" font-size="39.8" fill="#000" stroke="#000" stroke-width="0.85">♯</text></g>
<text x="606.50" y="1130.50" font-size="50" text-anchor="start" font-weight="normal" fill="#000" stroke="#000" stroke-width="0" >D</text>
<line x1="724.00" y1="1197.80" x2="724.00" y2="1449.80" stroke="#2e2e2e" stroke-width="1.35" />
<line x1="713.60" y1="1449.80" x2="1167.30" y2="1449.80" stroke="#2e2e2e" stroke-width="1.35" />
<line x1="713.40" y1="1198.00" x2="724.00" y2="1198.00" stroke="#2e2e2e" stroke-width="1.35" />
<text x="695.60" y="1207.00" font-size="27" text-anchor="end" font-weight="normal" fill="#141414" stroke="#141414" stroke-width="0.3" >1.5</text>
<line x1="713.40" y1="1248.90" x2="724.00" y2="1248.90" stroke="#2e2e2e" stroke-width="1.35" />
<text x="695.60" y="1257.90" font-size="27" text-anchor="end" font-weight="normal" fill="#141414" stroke="#141414" stroke-width="0.3" >1.2</text>
<line x1="713.40" y1="1299.10" x2="724.00" y2="1299.10" stroke="#2e2e2e" stroke-width="1.35" />
<text x="695.60" y="1308.10" font-size="27" text-anchor="end" font-weight="normal" fill="#141414" stroke="#141414" stroke-width="0.3" >0.9</text>
<line x1="713.40" y1="1349.90" x2="724.00" y2="1349.90" stroke="#2e2e2e" stroke-width="1.35" />
<text x="695.60" y="1358.90" font-size="27" text-anchor="end" font-weight="normal" fill="#141414" stroke="#141414" stroke-width="0.3" >0.6</text>
<line x1="713.40" y1="1399.60" x2="724.00" y2="1399.60" stroke="#2e2e2e" stroke-width="1.35" />
<text x="695.60" y="1408.60" font-size="27" text-anchor="end" font-weight="normal" fill="#141414" stroke="#141414" stroke-width="0.3" >0.3</text>
<line x1="713.40" y1="1449.80" x2="724.00" y2="1449.80" stroke="#2e2e2e" stroke-width="1.35" />
<text x="695.60" y="1458.80" font-size="27" text-anchor="end" font-weight="normal" fill="#141414" stroke="#141414" stroke-width="0.3" >0</text>
<line x1="779.20" y1="1260.30" x2="779.20" y2="1265.20" stroke="#222" stroke-width="1.3" />
<line x1="774.40" y1="1260.30" x2="784.00" y2="1260.30" stroke="#222" stroke-width="1.3" />
<rect x="742.10" y="1264.20" width="74.00" height="186.00" fill="#000"/>
<line x1="890.70" y1="1249.20" x2="890.70" y2="1258.60" stroke="#222" stroke-width="1.3" />
<line x1="885.90" y1="1249.20" x2="895.50" y2="1249.20" stroke="#222" stroke-width="1.3" />
<rect x="853.20" y="1257.60" width="74.00" height="192.60" fill="#000"/>
<line x1="1000.90" y1="1234.70" x2="1000.90" y2="1250.70" stroke="#222" stroke-width="1.3" />
<line x1="996.10" y1="1234.70" x2="1005.70" y2="1234.70" stroke="#222" stroke-width="1.3" />
<rect x="964.10" y="1249.70" width="72.60" height="200.50" fill="#000"/>
<line x1="1111.40" y1="1243.30" x2="1111.40" y2="1255.20" stroke="#222" stroke-width="1.3" />
<line x1="1106.60" y1="1243.30" x2="1116.20" y2="1243.30" stroke="#222" stroke-width="1.3" />
<rect x="1075.30" y="1254.20" width="72.40" height="196.00" fill="#000"/>
<text x="774.20" y="1486.20" font-size="27.3" text-anchor="middle" letter-spacing="0.4" fill="#000" stroke="#000" stroke-width="0.5">control</text>
<text x="886.50" y="1486.20" font-size="27.3" text-anchor="middle" letter-spacing="0.4" fill="#000" stroke="#000" stroke-width="0.5">SE</text>
<text x="998.70" y="1486.20" font-size="27.3" text-anchor="middle" letter-spacing="0.4" fill="#000" stroke="#000" stroke-width="0.5">CCl<tspan font-size="18" dy="6.5">4</tspan></text>
<text x="1120.50" y="1486.20" font-size="27.3" text-anchor="middle" letter-spacing="0.4" fill="#000" stroke="#000" stroke-width="0.5">CCl<tspan font-size="18" dy="6.5">4</tspan><tspan dy="-6.5"> + SE</tspan></text>
<text transform="translate(634.70,1325.00) rotate(-90)" font-size="32" text-anchor="middle" fill="#141414" stroke="#141414" stroke-width="0.55" >Kidney/body weight (%)</text>
</svg>
</body></html>
